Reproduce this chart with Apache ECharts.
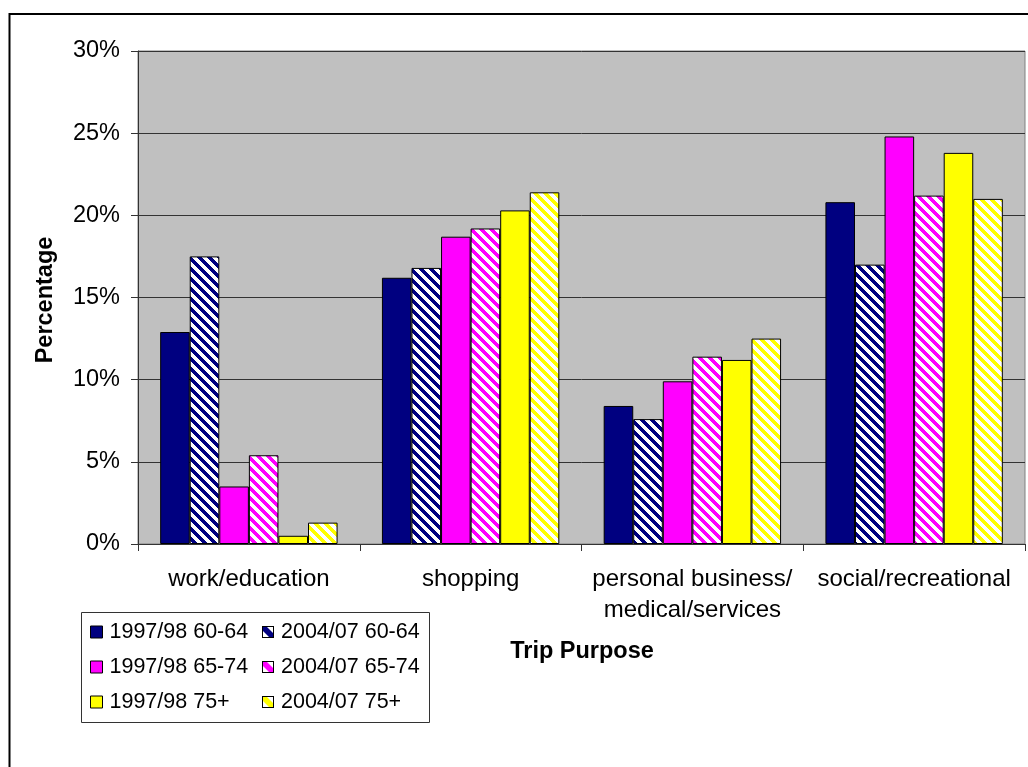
<!DOCTYPE html>
<html>
<head>
<meta charset="utf-8">
<title>Trip Purpose by Age Group</title>
<script src="https://cdn.jsdelivr.net/npm/echarts@6/dist/echarts.min.js"></script>
<style>
  html, body { margin: 0; padding: 0; background: #ffffff; }
  #chart { width: 1028px; height: 767px; }
</style>
</head>
<body>
<div id="chart"></div>
<script>
// Trip purposes shown along the horizontal axis
const categories = ['work/education', 'shopping', 'personal business/\nmedical/services', 'social/recreational'];

// Share of trips (%) for each survey period and age band
const s9798_6064 = [12.9, 16.2, 8.4, 20.8];
const s0407_6064 = [17.5, 16.8, 7.6, 17.0];
const s9798_6574 = [3.5, 18.7, 9.9, 24.8];
const s0407_6574 = [5.4, 19.2, 11.4, 21.2];
const s9798_75 = [0.5, 20.3, 11.2, 23.8];
const s0407_75 = [1.3, 21.4, 12.5, 21.0];

const seriesNames = ['1997/98 60-64', '2004/07 60-64', '1997/98 65-74', '2004/07 65-74', '1997/98 75+', '2004/07 75+'];

// Value axis settings
const yMin = 0, yMax = 30, yStep = 5;

const FONT = '"Liberation Sans", Arial, sans-serif';

// Wide downward-diagonal hatch tile in the given colour on white
function hatch(color) {
  const n = 10, w = 5;
  const c = document.createElement('canvas');
  c.width = n; c.height = n;
  const g = c.getContext('2d');
  g.fillStyle = '#ffffff';
  g.fillRect(0, 0, n, n);
  g.fillStyle = color;
  for (let r = 0; r < n; r++) {
    for (let k = 0; k < w; k++) {
      g.fillRect((r + k) % n, r, 1, 1);
    }
  }
  return { image: c, repeat: 'repeat' };
}

// Small legend swatch: white square crossed by one diagonal band, black outline
function hatchIcon(color) {
  const s = 12;
  const c = document.createElement('canvas');
  c.width = s; c.height = s;
  const g = c.getContext('2d');
  g.fillStyle = '#ffffff';
  g.fillRect(0, 0, s, s);
  g.fillStyle = color;
  g.beginPath();
  g.moveTo(0, 0); g.lineTo(4, 0); g.lineTo(s, s - 4); g.lineTo(s, s); g.lineTo(s - 4, s); g.lineTo(0, 4);
  g.closePath();
  g.fill();
  g.strokeStyle = '#000000';
  g.lineWidth = 1;
  g.strokeRect(0.5, 0.5, s - 1, s - 1);
  return 'image://' + c.toDataURL();
}

const NAVY = '#000080', MAGENTA = '#ff00ff', YELLOW = '#ffff00';
const baseColors = [NAVY, NAVY, MAGENTA, MAGENTA, YELLOW, YELLOW];
const hatched = [false, true, false, true, false, true];
const fills = baseColors.map((c, i) => hatched[i] ? hatch(c) : c);
const values = [s9798_6064, s0407_6064, s9798_6574, s0407_6574, s9798_75, s0407_75];

function legendItem(i) {
  return hatched[i] ? { name: seriesNames[i], icon: hatchIcon(baseColors[i]) } : { name: seriesNames[i] };
}

const chart = echarts.init(document.getElementById('chart'), null, { renderer: 'canvas' });

const legendBase = {
  orient: 'vertical',
  top: 621,
  itemWidth: 12,
  itemHeight: 12,
  itemGap: 13,
  padding: 0,
  icon: 'rect',
  selectedMode: false,
  itemStyle: { borderColor: '#000000', borderWidth: 1 },
  textStyle: { fontFamily: FONT, fontSize: 21.5, lineHeight: 22, color: '#000000', padding: [0, 0, 0, 2] }
};

chart.setOption({
  animation: false,
  backgroundColor: '#ffffff',
  grid: {
    left: 138, right: 3, top: 51, height: 493,
    show: true,
    backgroundColor: '#c0c0c0',
    borderColor: '#808080',
    borderWidth: 1
  },
  legend: [
    Object.assign({}, legendBase, { left: 90, data: [legendItem(0), legendItem(2), legendItem(4)] }),
    Object.assign({}, legendBase, { left: 262, data: [legendItem(1), legendItem(3), legendItem(5)] })
  ],
  xAxis: {
    type: 'category',
    data: categories,
    axisLine: { lineStyle: { color: '#333333', width: 1 } },
    axisTick: { show: true, length: 7, lineStyle: { color: '#333333' } },
    axisLabel: {
      margin: 20,
      fontFamily: FONT, fontSize: 24, lineHeight: 31, color: '#000000',
      interval: 0
    },
    splitLine: { show: false }
  },
  yAxis: {
    type: 'value',
    min: yMin, max: yMax, interval: yStep,
    axisLine: { show: true, lineStyle: { color: '#333333', width: 1 } },
    axisTick: { show: true, length: 7, lineStyle: { color: '#333333' } },
    axisLabel: {
      margin: 18,
      fontFamily: FONT, fontSize: 23.5, color: '#000000',
      formatter: v => v + '%'
    },
    splitLine: { show: true, lineStyle: { color: '#333333', width: 1 } }
  },
  series: values.map((vals, i) => ({
    name: seriesNames[i],
    type: 'bar',
    data: vals,
    barGap: '0%',
    barCategoryGap: '20%',
    itemStyle: { color: fills[i], borderColor: '#000000', borderWidth: 1 }
  })),
  graphic: [
    // chart area frame
    {
      type: 'rect', silent: true, z: 0,
      shape: { x: 9.5, y: 14, width: 1100, height: 900 },
      style: { fill: null, stroke: '#000000', lineWidth: 2 }
    },
    // legend frame
    {
      type: 'rect', silent: true, z: 0,
      shape: { x: 81.5, y: 612.5, width: 348, height: 110 },
      style: { fill: '#ffffff', stroke: '#333333', lineWidth: 1 }
    },
    {
      type: 'text', silent: true,
      x: 46, y: 300, rotation: Math.PI / 2,
      style: {
        text: 'Percentage', fontFamily: FONT, fontSize: 23.5, fontWeight: 'bold',
        fill: '#000000', align: 'center', verticalAlign: 'middle'
      }
    },
    {
      type: 'text', silent: true,
      x: 582, y: 652,
      style: {
        text: 'Trip Purpose', fontFamily: FONT, fontSize: 23.5, fontWeight: 'bold',
        fill: '#000000', align: 'center', verticalAlign: 'middle'
      }
    }
  ]
});
</script>
</body>
</html>
